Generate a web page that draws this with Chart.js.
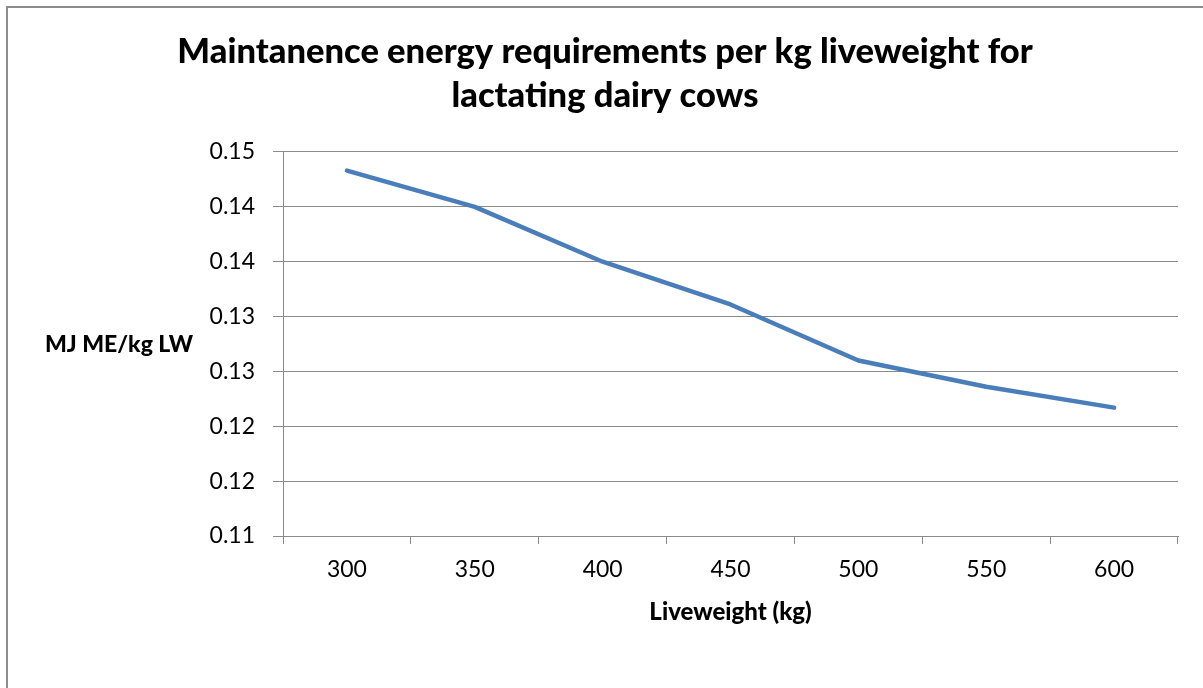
<!DOCTYPE html>
<html>
<head>
<meta charset="utf-8">
<script src="https://cdn.jsdelivr.net/npm/chart.js@4.4.1/dist/chart.umd.min.js"></script>
<style>
  html, body { margin: 0; padding: 0; background: #ffffff; }
  #wrap { width: 1203px; height: 688px; position: relative; }
</style>
</head>
<body>
<div id="wrap"><canvas id="c" width="1203" height="688"></canvas></div>
<script>
const titleLines = ['Maintanence energy requirements per kg liveweight for', 'lactating dairy cows'];
const xAxisTitle = 'Liveweight (kg)';
const yAxisTitle = 'MJ ME/kg LW';
const categories = ['300', '350', '400', '450', '500', '550', '600'];
const energyPerKg = [0.1433, 0.1400, 0.1350, 0.1311, 0.1260, 0.1236, 0.1217];
const yTickLabels = ['0.11', '0.12', '0.12', '0.13', '0.13', '0.14', '0.14', '0.15'];

const FONT = 'Lato, "Open Sans", "Liberation Sans", sans-serif';
const GRID = '#8a8a8a';

const extras = {
  id: 'extras',
  afterDraw(chart) {
    const ctx = chart.ctx;
    const a = chart.chartArea;
    ctx.save();
    // outer chart border (top and left visible)
    ctx.strokeStyle = '#8c8c8c';
    ctx.lineWidth = 2;
    ctx.strokeRect(7, 7, 1400, 900);
    // horizontal y-axis title
    ctx.fillStyle = '#000';
    ctx.font = '900 23px ' + FONT;
    ctx.textAlign = 'center';
    ctx.textBaseline = 'middle';
    ctx.fillText(yAxisTitle, 119, (a.top + a.bottom) / 2 + 1);
    ctx.restore();
  }
};

new Chart(document.getElementById('c'), {
  type: 'line',
  data: {
    labels: categories,
    datasets: [{
      data: energyPerKg,
      borderColor: '#4A7EBB',
      borderWidth: 4.5,
      pointRadius: 0,
      pointHoverRadius: 0,
      tension: 0,
      borderCapStyle: 'round',
      borderJoinStyle: 'round',
      fill: false
    }]
  },
  options: {
    responsive: false,
    animation: false,
    devicePixelRatio: 1,
    layout: { padding: { top: 0, left: 32, right: 25, bottom: 0 } },
    plugins: {
      legend: { display: false },
      tooltip: { enabled: false },
      title: {
        display: true,
        text: titleLines,
        color: '#000',
        font: { family: FONT, size: 34.5, weight: 900, lineHeight: 1.275 },
        padding: { top: 30, bottom: 34 }
      }
    },
    scales: {
      x: {
        type: 'category',
        offset: true,
        grid: {
          offset: true,
          drawOnChartArea: false,
          drawTicks: true,
          tickLength: 8,
          color: GRID,
          lineWidth: 1
        },
        border: { display: true, color: GRID, width: 1 },
        ticks: {
          color: '#000',
          font: { family: FONT, size: 23 },
          padding: 12,
          maxRotation: 0
        },
        title: {
          display: true,
          text: xAxisTitle,
          color: '#000',
          font: { family: FONT, size: 24, weight: 900, lineHeight: 1.2 },
          padding: 61
        },
        afterFit(scale) { scale.height = 152; }
      },
      y: {
        min: 0.11,
        max: 0.145,
        grid: {
          color: GRID,
          lineWidth: 1,
          drawTicks: true,
          tickLength: 10
        },
        border: { display: true, color: GRID, width: 1 },
        ticks: {
          stepSize: 0.005,
          color: '#000',
          font: { family: FONT, size: 23 },
          padding: 18,
          callback: (v, i) => yTickLabels[i]
        },
        afterFit(scale) { scale.width = 251; }
      }
    }
  },
  plugins: [extras]
});
</script>
</body>
</html>
